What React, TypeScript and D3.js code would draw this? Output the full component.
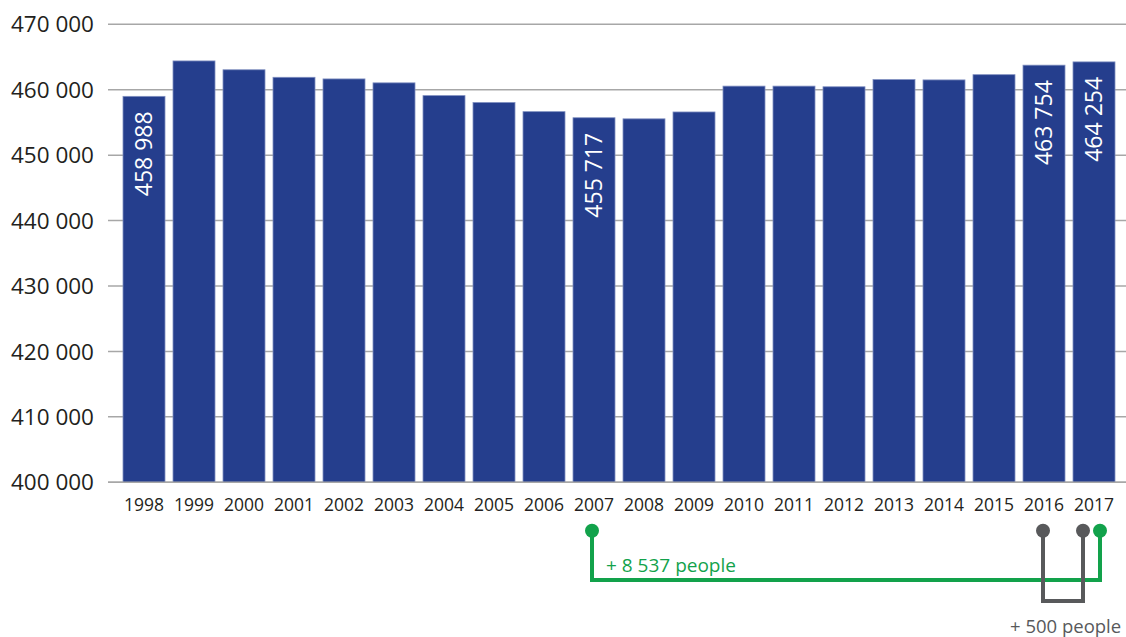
import React from "react";
import * as d3 from "d3";

const years = ["1998","1999","2000","2001","2002","2003","2004","2005","2006","2007","2008","2009","2010","2011","2012","2013","2014","2015","2016","2017"];
const population = [458988,464400,463050,461900,461650,461050,459100,458050,456650,455717,455550,456600,460550,460550,460450,461550,461500,462300,463754,464254];
const labelledYears = ["1998","2007","2016","2017"];
const yTicks = [400000,410000,420000,430000,440000,450000,460000,470000];
const greenNote = "+ 8 537 people";
const grayNote = "+ 500 people";

const W = 1126, H = 637;
const FONT = "'Open Sans', 'Noto Sans', sans-serif";
const BAR = "#253e8d";
const GREEN = "#12a24b";
const GRAY = "#58595b";

const fmt = (v: number) => {
  const s = String(Math.round(v));
  return s.replace(/\B(?=(\d{3})+(?!\d))/g, " ");
};

export default function App() {
  const x = d3.scaleBand<string>().domain(years).range([119, 1119]).paddingInner(0.16).paddingOuter(0.08);
  const y = d3.scaleLinear().domain([400000, 470000]).range([482.3, 24.3]);
  const bw = x.bandwidth();
  const cx = (yr: string) => (x(yr) as number) + bw / 2;

  const gx1 = cx("2007") - 2, gx2 = cx("2017") + 6;
  const hx1 = cx("2016") - 1, hx2 = cx("2017") - 11;
  const dotY = 530.7;
  const greenY = 580, grayY = 601;

  return (
    <svg width={W} height={H} style={{ position: "absolute", left: 0, top: 0, background: "#fff" }} fontFamily={FONT}>
      {yTicks.map((t) => (
        <g key={t}>
          <line x1={108} x2={W} y1={y(t)} y2={y(t)} stroke="#a7a7a7" strokeWidth={1.5} />
          <text x={94} y={y(t)} dy="0.36em" textAnchor="end" fontSize={22.5} fill="#231f20">{fmt(t)}</text>
        </g>
      ))}
      {years.map((yr, i) => (
        <rect key={yr} x={x(yr)} y={y(population[i])} width={bw} height={y(400000) - y(population[i])}
          fill={BAR} stroke="#7f8fc0" strokeWidth={0.8} />
      ))}
      <line x1={108} x2={W} y1={y(400000)} y2={y(400000)} stroke="#a7a7a7" strokeWidth={1.5} />
      {years.map((yr) => (
        <text key={"xl" + yr} x={cx(yr)} y={511} textAnchor="middle" fontSize={17.5} fill="#231f20">{yr}</text>
      ))}
      {years.map((yr, i) => labelledYears.includes(yr) ? (
        <text key={"bl" + yr} transform={`translate(${cx(yr)},${y(population[i]) + 15}) rotate(-90)`}
          textAnchor="end" dy="0.36em" fontSize={23} fill="#ffffff">{fmt(population[i])}</text>
      ) : null)}
      {/* green annotation */}
      <path d={`M${gx1},${dotY} V${greenY} H${gx2} V${dotY}`} fill="none" stroke={GREEN} strokeWidth={4} />
      <circle cx={gx1} cy={dotY} r={7} fill={GREEN} />
      {/* gray annotation */}
      <path d={`M${hx1},${dotY} V${grayY} H${hx2} V${dotY}`} fill="none" stroke={GRAY} strokeWidth={4} />
      <circle cx={hx1} cy={dotY} r={7} fill={GRAY} />
      <circle cx={hx2} cy={dotY} r={7} fill={GRAY} />
      <circle cx={gx2} cy={dotY} r={7} fill={GREEN} />
      <text x={606} y={571.5} fontSize={19} fill={GREEN}>{greenNote}</text>
      <text x={1010} y={633} fontSize={18.5} fill={GRAY}>{grayNote}</text>
    </svg>
  );
}
